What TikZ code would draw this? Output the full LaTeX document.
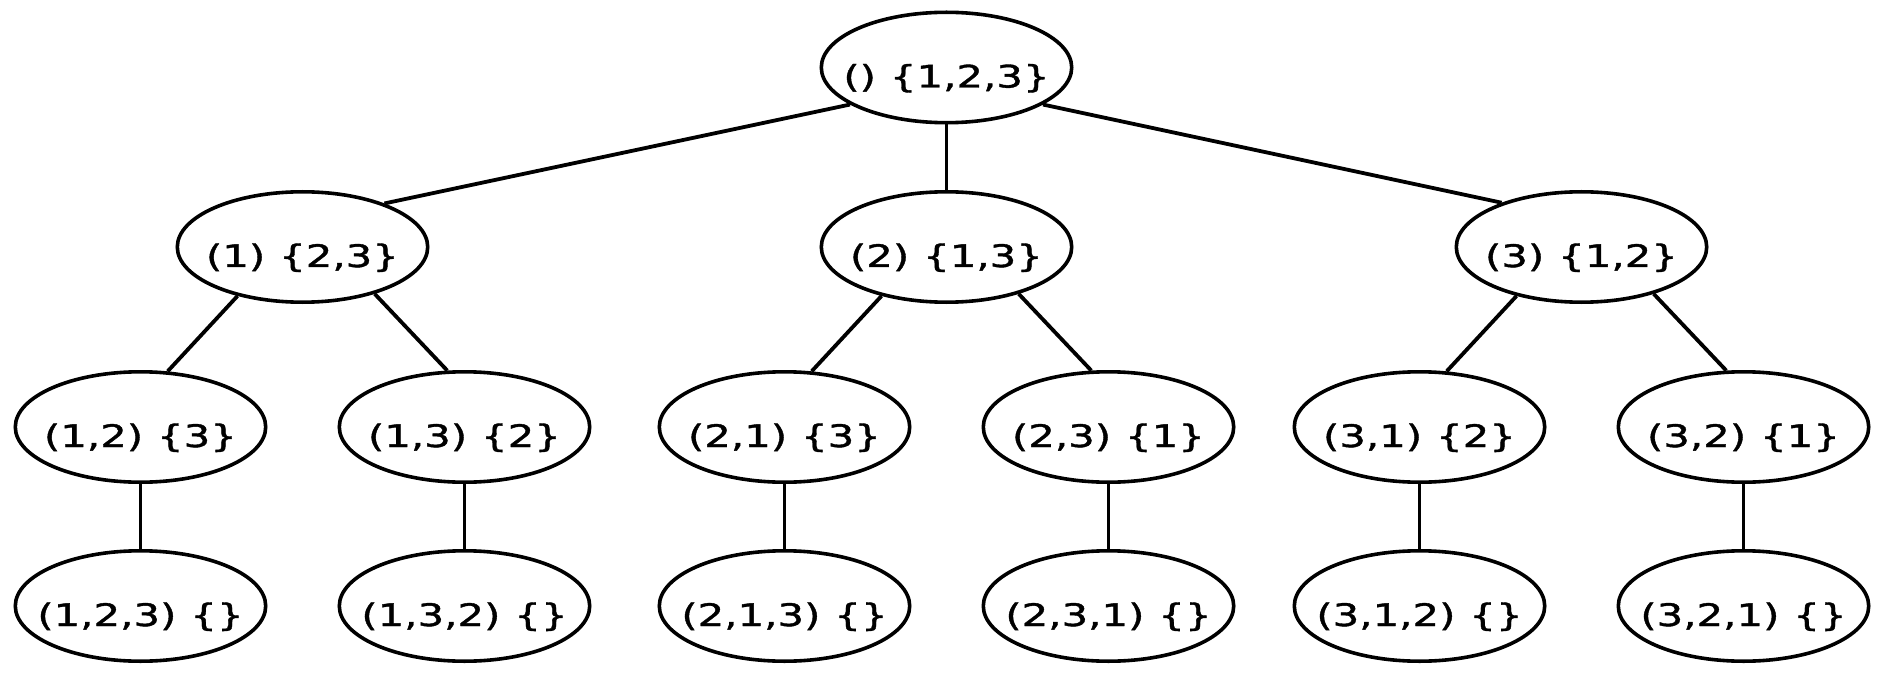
\documentclass[tikz,border=0pt]{standalone}
\usepackage{fontspec}
\setmainfont[FakeStretch=1.35,FakeBold=1.2]{DejaVu Sans}
\usetikzlibrary{shapes.geometric}
\newcommand{\setgap}{\hspace{0.45em}}
% label kept out of the ellipse size, so every ellipse has the same axes;
% its baseline sits a little below the centre of the ellipse
\newcommand{\lbl}[1]{\raisebox{-20pt}[0pt][0pt]{\makebox[0pt]{#1}}}
\begin{document}
\begin{tikzpicture}[x=1pt,y=-1pt,
  state/.style={draw,ellipse,line width=3.6pt,minimum width=250.4pt,
    minimum height=110.4pt,inner sep=0pt,font=\fontsize{31}{36}\selectfont},
  link/.style={line width=3.8pt}]
\useasboundingbox (0,0) rectangle (1881,676);
% root
\node[state] (r) at (946.5,67.5) {\lbl{()\setgap\{1,2,3\}}};
% first choice
\node[state] (a1) at (302.5,247) {\lbl{(1)\setgap\{2,3\}}};
\node[state] (a2) at (946.5,247) {\lbl{(2)\setgap\{1,3\}}};
\node[state] (a3) at (1581.5,247) {\lbl{(3)\setgap\{1,2\}}};
% second choice
\node[state] (b12) at (140.5,427) {\lbl{(1,2)\setgap\{3\}}};
\node[state] (b13) at (464.5,427) {\lbl{(1,3)\setgap\{2\}}};
\node[state] (b21) at (784.5,427) {\lbl{(2,1)\setgap\{3\}}};
\node[state] (b23) at (1108.5,427) {\lbl{(2,3)\setgap\{1\}}};
\node[state] (b31) at (1419.5,427) {\lbl{(3,1)\setgap\{2\}}};
\node[state] (b32) at (1743.5,427) {\lbl{(3,2)\setgap\{1\}}};
% complete permutations
\node[state] (c123) at (140.5,606) {\lbl{(1,2,3)\setgap\{\}}};
\node[state] (c132) at (464.5,606) {\lbl{(1,3,2)\setgap\{\}}};
\node[state] (c213) at (784.5,606) {\lbl{(2,1,3)\setgap\{\}}};
\node[state] (c231) at (1108.5,606) {\lbl{(2,3,1)\setgap\{\}}};
\node[state] (c312) at (1419.5,606) {\lbl{(3,1,2)\setgap\{\}}};
\node[state] (c321) at (1743.5,606) {\lbl{(3,2,1)\setgap\{\}}};
% tree edges
\draw[link] (r.201) -- (a1.28);
\draw[link] (r.south) -- (a2.north);
\draw[link] (r.339.7) -- (a3.151);
\draw[link] (a1.217.8) -- (b12.64.7);
\draw[link] (a1.327.2) -- (b13.107.4);
\draw[link] (a2.217.8) -- (b21.64.7);
\draw[link] (a2.327.2) -- (b23.107.4);
\draw[link] (a3.217.8) -- (b31.64.7);
\draw[link] (a3.327.2) -- (b32.107.4);
\draw[link] (b12.south) -- (c123.north);
\draw[link] (b13.south) -- (c132.north);
\draw[link] (b21.south) -- (c213.north);
\draw[link] (b23.south) -- (c231.north);
\draw[link] (b31.south) -- (c312.north);
\draw[link] (b32.south) -- (c321.north);
\end{tikzpicture}
\end{document}
